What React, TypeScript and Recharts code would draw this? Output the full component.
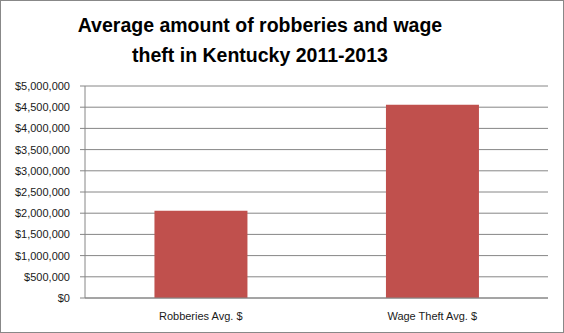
import React from "react";
import { BarChart, Bar, XAxis, YAxis, CartesianGrid } from "recharts";

const categories = ["Robberies Avg. $", "Wage Theft Avg. $"];
const averages = [2060000, 4560000];
const yTicks = [0, 500000, 1000000, 1500000, 2000000, 2500000, 3000000, 3500000, 4000000, 4500000, 5000000];
const edgeTicks = [0, 1, 2];
const titleLines = ["Average amount of robberies and wage", "theft in Kentucky 2011-2013"];

const data = categories.map((c, i) => ({ name: c, value: averages[i] }));

const FONT = "'Liberation Sans', Arial, sans-serif";
const GRID = "#868686";
const TEXT = "#1a1a1a";

const fmt = (v: number) => "$" + v.toLocaleString("en-US");

export default function App() {
  return (
    <div style={{ position: "absolute", left: 0, top: 0, width: 564, height: 333, background: "#fff" }}>
      <BarChart
        width={564}
        height={333}
        data={data}
        margin={{ top: 86, right: 16, bottom: 5, left: 0 }}
        barCategoryGap="30%"
      >
        <CartesianGrid vertical={false} stroke={GRID} strokeWidth={1} />
        <XAxis
          xAxisId={0}
          type="number"
          domain={[0, 2]}
          ticks={edgeTicks}
          height={0}
          tick={false}
          axisLine={false}
          tickLine={{ stroke: GRID }}
          tickSize={4}
        />
        <XAxis
          xAxisId="cat"
          dataKey="name"
          height={30}
          tickLine={false}
          axisLine={{ stroke: GRID }}
          tickSize={4}
          tickMargin={10}
          tick={{ fill: TEXT, fontSize: 11, fontFamily: FONT }}
        />
        <YAxis
          domain={[0, 5000000]}
          ticks={yTicks}
          width={85}
          tickSize={5}
          tickMargin={10}
          tickFormatter={fmt}
          axisLine={{ stroke: GRID }}
          tickLine={{ stroke: GRID }}
          tick={{ fill: TEXT, fontSize: 11, fontFamily: FONT }}
          interval={0}
        />
        <Bar xAxisId="cat" dataKey="value" fill="#C0504D" isAnimationActive={false} />
      </BarChart>
      <div
        style={{
          position: "absolute",
          left: 0,
          top: 10,
          width: 520,
          textAlign: "center",
          fontFamily: FONT,
          fontWeight: "bold",
          fontSize: 19.5,
          lineHeight: "30px",
          color: "#000",
        }}
      >
        {titleLines.map((l) => (
          <div key={l}>{l}</div>
        ))}
      </div>
      <div
        style={{
          position: "absolute",
          left: 0,
          top: 0,
          width: 564,
          height: 333,
          boxSizing: "border-box",
          border: "1px solid #888",
          pointerEvents: "none",
        }}
      />
    </div>
  );
}
